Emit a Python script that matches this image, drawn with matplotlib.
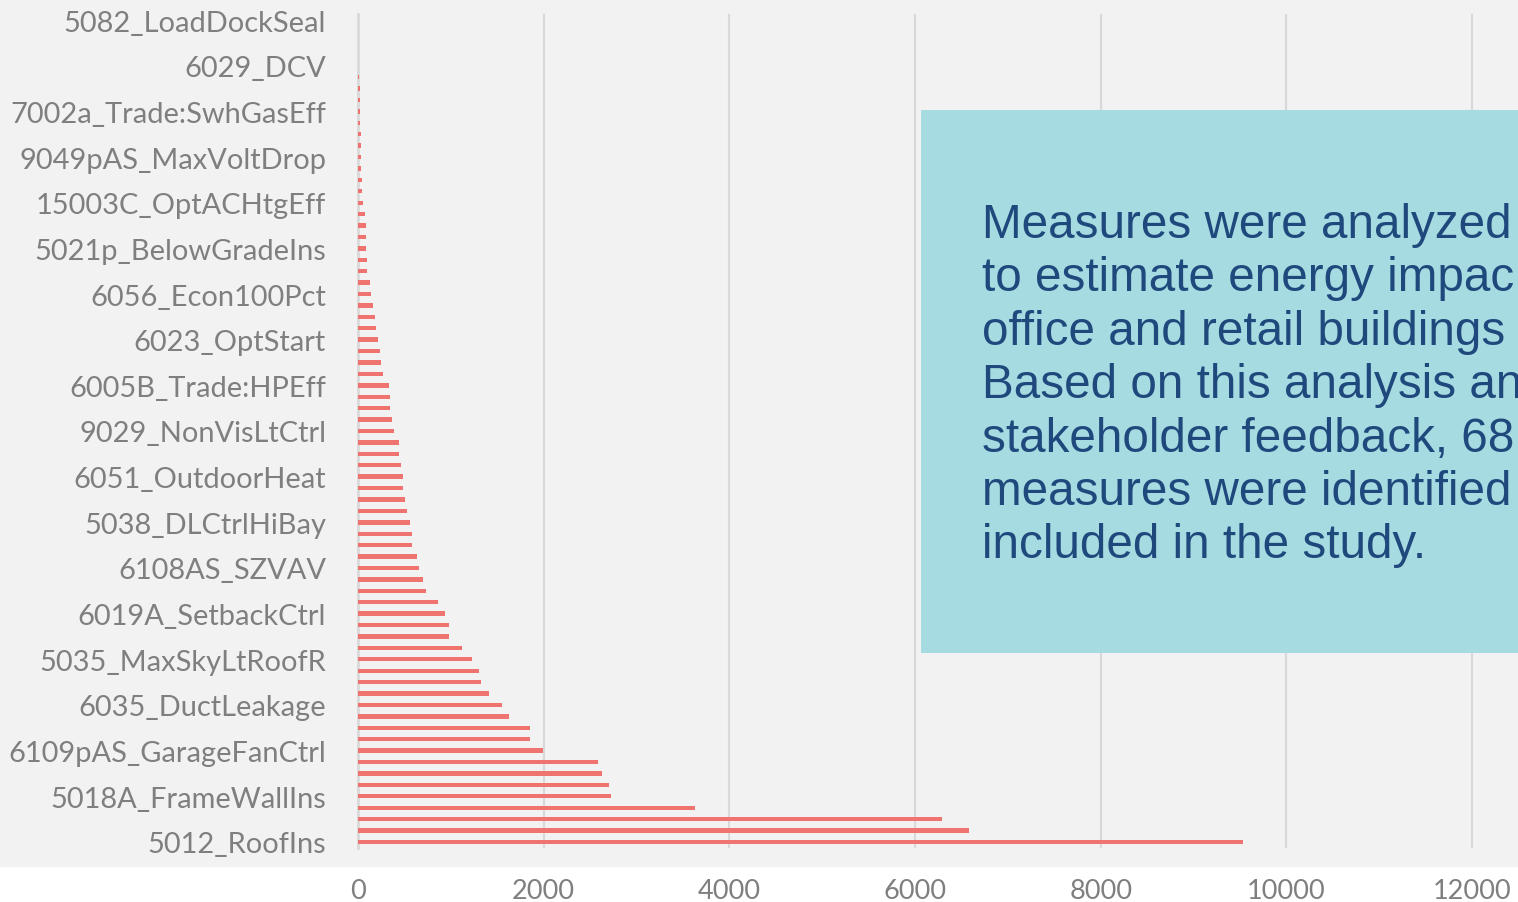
import numpy as np
import matplotlib.pyplot as plt
from matplotlib.patches import Rectangle

# savings per measure, top of chart first (73 bars, every 4th one labelled)
values = [0, 0, 0, 0, 0,
          15, 20, 20, 25, 25, 35, 35, 35, 35, 45, 45, 55, 80,
          83, 86, 86, 93, 93, 129, 136, 162, 183, 190, 219, 237, 251, 273,
          330, 341, 341, 370, 391, 442, 445, 460, 485, 488, 506, 524, 564,
          578, 585, 632, 661, 700, 736, 858, 937, 977, 984, 1120, 1224,
          1300, 1321, 1411, 1548, 1623, 1856, 1856, 1996, 2588, 2631,
          2703, 2725, 3625, 6290, 6587, 9530]

labels = ['5082_LoadDockSeal', '6029_DCV', '7002a_Trade:SwhGasEff',
          '9049pAS_MaxVoltDrop', '15003C_OptACHtgEff', '5021p_BelowGradeIns',
          '6056_Econ100Pct', '6023_OptStart', '6005B_Trade:HPEff',
          '9029_NonVisLtCtrl', '6051_OutdoorHeat', '5038_DLCtrlHiBay',
          '6108AS_SZVAV', '6019A_SetbackCtrl', '5035_MaxSkyLtRoofR',
          '6035_DuctLeakage', '6109pAS_GarageFanCtrl', '5018A_FrameWallIns',
          '5012_RoofIns']

xticks = [0, 2000, 4000, 6000, 8000, 10000, 12000]

# the text box runs off the slide edge; only the visible part is kept
note_lines = ['Measures were analyzed',
              'to estimate energy impac',
              'office and retail buildings',
              'Based on this analysis an',
              'stakeholder feedback, 68',
              'measures were identified',
              'included in the study.']

W, H = 1518, 903
fig = plt.figure(figsize=(W / 100, H / 100), dpi=100, facecolor='white')

# grey slide area behind the chart
fig.patches.append(Rectangle((0, 1 - 868 / H), 1, 868 / H, transform=fig.transFigure,
                             facecolor='#f2f2f2', edgecolor='none', zorder=-10))

ax = fig.add_axes([358 / W, 1 - 848.7 / H, 1 - 358 / W, (848.7 - 15.3) / H])
ax.set_facecolor('none')
ax.set_zorder(1)

n = len(values)
pos = np.arange(n)
ax.barh(pos, values, height=0.38, color='#ef746f', zorder=3)

ax.set_ylim(n - 0.5, -0.5)
ax.set_xlim(0, 12000 + (W - 1472) / (1114 / 12000))
ax.set_yticks(pos[::4])
ax.set_yticklabels(labels, fontsize=20.9, color='#7f7f7f', family='Lato')
ax.set_xticks(xticks)
ax.set_xticklabels([str(t) for t in xticks], fontsize=19.5, color='#7f7f7f', family='Lato')
ax.tick_params(length=0)
ax.tick_params(axis='y', pad=23)
ax.tick_params(axis='x', pad=22)

ax.grid(axis='x', color='#d9d9d9', linewidth=1.5, zorder=0)
for s in ['top', 'right', 'bottom']:
    ax.spines[s].set_visible(False)
ax.spines['left'].set_color('#d9d9d9')
ax.spines['left'].set_linewidth(2)

# text box, drawn above the chart
fig.patches.append(Rectangle((921 / W, 1 - 653.5 / H), 1, (653.5 - 111) / H,
                             transform=fig.transFigure, facecolor='#a6dce1',
                             edgecolor='none', zorder=5))
for i, line in enumerate(note_lines):
    fig.text(982 / W, 1 - (238 + i * 53.4) / H, line, fontsize=34.3,
             family='Liberation Sans', color='#1f497d', va='baseline', zorder=6)

fig.savefig('out.png', dpi=100, facecolor=fig.get_facecolor())
